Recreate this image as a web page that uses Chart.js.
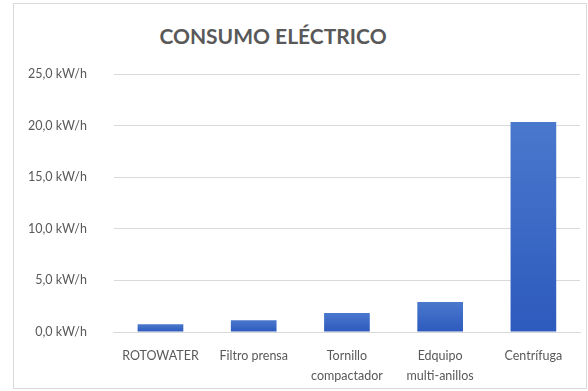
<!DOCTYPE html>
<html>
<head>
    <meta charset="utf-8">
    <title>Consumo eléctrico</title>
    <script src="https://cdn.jsdelivr.net/npm/chart.js"></script>
    <style>
        body { margin: 0; background: #fff; }
        #box {
            position: absolute; left: 13px; top: 3px;
            width: 572px; height: 384px;
            border: 1px solid #d9d9d9;
        }
        #titulo {
            position: absolute; left: 0; top: 19px; width: 518px;
            text-align: center;
            font: bold 21px Lato, sans-serif; color: #595959;
        }
        #wrap { position: absolute; left: 0; top: 0; width: 572px; height: 384px; }
    </style>
</head>
<body>
    <div id="box">
        <div id="titulo">CONSUMO ELÉCTRICO</div>
        <div id="wrap"><canvas id="chart"></canvas></div>
    </div>

    <script>
        // datos
        var equipos = ["ROTOWATER", "Filtro prensa", ["Tornillo", "compactador"], ["Edquipo", "multi-anillos"], "Centrífuga"];
        var consumo = [0.75, 1.13, 1.85, 2.9, 20.35];
        var ejeY = [0, 5, 10, 15, 20, 25];

        function degradado(context) {
            var chart = context.chart;
            var y = chart.scales.y;
            if (!y || !chart.chartArea) return "#3a68c6";
            var v = consumo[context.dataIndex];
            var g = chart.ctx.createLinearGradient(0, y.getPixelForValue(v), 0, y.getPixelForValue(0));
            g.addColorStop(0, "#4a78cd");
            g.addColorStop(1, "#2d5abd");
            return g;
        }

        var ctx = document.getElementById("chart").getContext("2d");
        var chart = new Chart(ctx, {
            type: "bar",
            data: {
                labels: equipos,
                datasets: [{
                    label: "Consumo",
                    data: consumo,
                    backgroundColor: degradado,
                    categoryPercentage: 1,
                    barPercentage: 0.49
                }]
            },
            options: {
                responsive: true,
                maintainAspectRatio: false,
                animation: false,
                layout: { padding: { top: 70, right: 6, left: -13, bottom: 0 } },
                plugins: {
                    legend: { display: false },
                    tooltip: { enabled: false }
                },
                scales: {
                    x: {
                        grid: { display: false },
                        border: { color: "#d9d9d9" },
                        ticks: {
                            color: "#595959",
                            font: { family: "Lato", size: 12.5, lineHeight: 1.6 },
                            padding: 6,
                            maxRotation: 0,
                            autoSkip: false
                        },
                        afterFit: function (s) { s.height = 56; }
                    },
                    y: {
                        min: ejeY[0],
                        max: ejeY[ejeY.length - 1],
                        afterBuildTicks: function (s) {
                            s.ticks = ejeY.map(function (v) { return { value: v }; });
                        },
                        grid: { color: "#d9d9d9", drawTicks: false },
                        border: { display: false },
                        ticks: {
                            color: "#595959",
                            font: { family: "Lato", size: 12.5 },
                            padding: 27,
                            callback: function (v) { return v.toFixed(1).replace(".", ",") + " kW/h"; }
                        }
                    }
                }
            }
        });
    </script>
</body>
</html>
